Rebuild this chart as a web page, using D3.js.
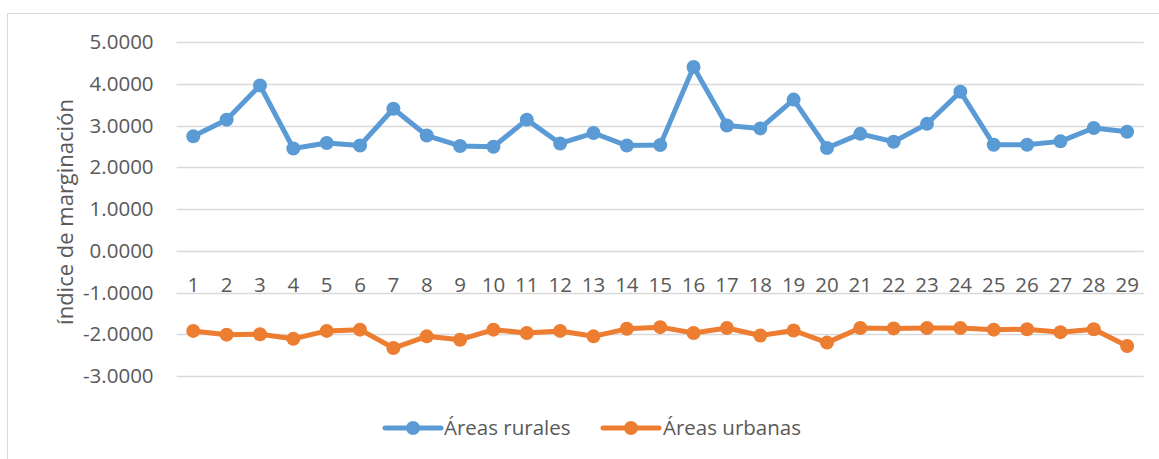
<!DOCTYPE html>
<html><head><meta charset="utf-8">
<script src="https://cdn.jsdelivr.net/npm/d3@7"></script>
<style>body{margin:0;background:#fff}svg{display:block}</style>
</head><body>
<script>
const categories = ["1","2","3","4","5","6","7","8","9","10","11","12","13","14","15","16","17","18","19","20","21","22","23","24","25","26","27","28","29"];
const rurales = [2.74,3.14,3.96,2.45,2.58,2.52,3.40,2.76,2.51,2.49,3.14,2.57,2.82,2.52,2.53,4.40,3.00,2.93,3.62,2.46,2.80,2.61,3.04,3.81,2.54,2.54,2.62,2.94,2.85];
const urbanas = [-1.92,-2.01,-2.00,-2.11,-1.92,-1.89,-2.33,-2.05,-2.13,-1.89,-1.97,-1.92,-2.05,-1.87,-1.83,-1.97,-1.85,-2.03,-1.91,-2.20,-1.85,-1.86,-1.85,-1.85,-1.89,-1.88,-1.95,-1.88,-2.28];
const yTicks = [5,4,3,2,1,0,-1,-2,-3];
const seriesNames = ["Áreas rurales","Áreas urbanas"];
const colors = ["#5B9BD5","#ED7D31"];

const W=1159,H=459;
const svg=d3.select("body").append("svg").attr("width",W).attr("height",H);
const font='"Open Sans", sans-serif';
svg.append("rect").attr("x",7.5).attr("y",13.5).attr("width",1160).attr("height",460).attr("fill","#fff").attr("stroke","#d9d9d9");

const x0=176.6, x1=1143.8;
const x=d3.scaleBand().domain(categories).range([x0,x1]);
const y=d3.scaleLinear().domain([-3,5]).range([376,42]);

// gridlines
svg.append("g").selectAll("line").data(yTicks).join("line")
  .attr("x1",x0).attr("x2",x1).attr("y1",d=>Math.round(y(d))+0.5).attr("y2",d=>Math.round(y(d))+0.5)
  .attr("stroke","#d9d9d9").attr("stroke-width",1.3);

// y labels
const fmt=d3.formatLocale({decimal:".",thousands:",",grouping:[3],currency:["",""],minus:"-"}).format(".4f");
const yAxis=d3.axisLeft(y).tickValues(yTicks).tickFormat(fmt).tickSize(0).tickPadding(23);
const ya=svg.append("g").attr("transform",`translate(${x0},0)`).call(yAxis);
ya.select(".domain").remove();
ya.selectAll("text").attr("font-family",font).attr("font-size",20.5).attr("fill","#595959");

// x axis at y=0
const xAxis=d3.axisBottom(x).tickSize(0);
const xa=svg.append("g").attr("transform",`translate(0,${y(0)})`).call(xAxis);
xa.select(".domain").remove();
xa.selectAll("text").attr("y",41).attr("dy",null).attr("font-family",font).attr("font-size",20.5).attr("fill","#595959");

// axis title
svg.append("text").attr("transform","translate(73,212) rotate(-90)").attr("text-anchor","middle")
  .attr("font-family",font).attr("font-size",22).attr("fill","#595959").text("índice de marginación");

const cx=d=>x(d)+x.bandwidth()/2;
[rurales,urbanas].forEach((vals,i)=>{
  const line=d3.line().x((d,j)=>cx(categories[j])).y(d=>y(d));
  svg.append("path").datum(vals).attr("d",line).attr("fill","none").attr("stroke",colors[i]).attr("stroke-width",5).attr("stroke-linejoin","round");
  svg.append("g").selectAll("circle").data(vals).join("circle")
    .attr("cx",(d,j)=>cx(categories[j])).attr("cy",d=>y(d)).attr("r",7).attr("fill",colors[i]);
});

// legend
const leg=[{x:385,tx:444},{x:603,tx:663}];
leg.forEach((l,i)=>{
  const g=svg.append("g");
  g.append("line").attr("x1",l.x).attr("x2",l.x+56).attr("y1",428).attr("y2",428).attr("stroke",colors[i]).attr("stroke-width",5).attr("stroke-linecap","round");
  g.append("circle").attr("cx",l.x+28).attr("cy",428).attr("r",7).attr("fill",colors[i]);
  g.append("text").attr("x",l.tx).attr("y",428).attr("dy","0.35em").attr("font-family",font).attr("font-size",20.5).attr("fill","#595959").text(seriesNames[i]);
});
</script>
</body></html>
